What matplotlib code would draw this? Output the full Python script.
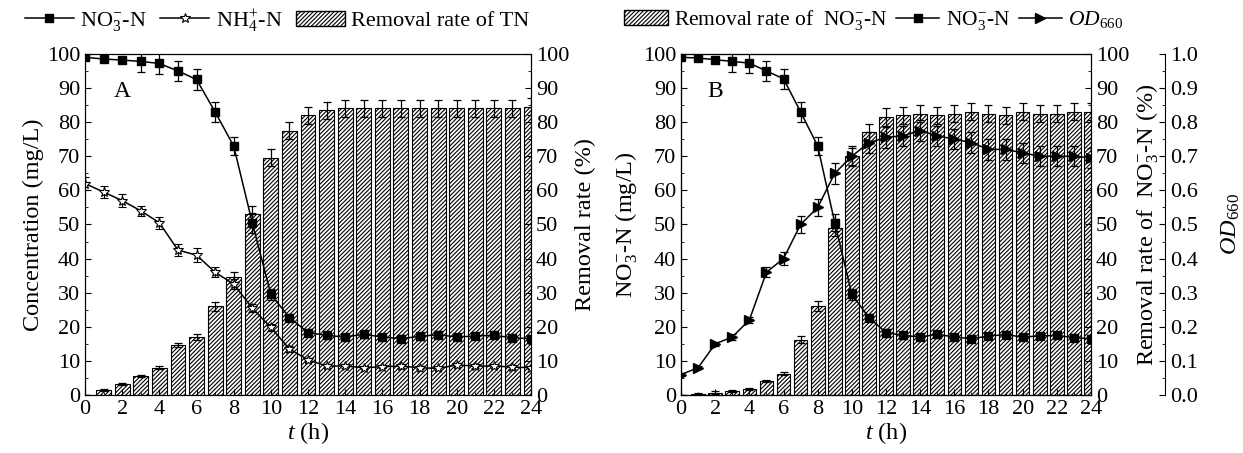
import matplotlib as mpl
mpl.use('Agg')
import matplotlib.pyplot as plt
from matplotlib.patches import Patch
from matplotlib.lines import Line2D
from matplotlib.ticker import MultipleLocator, FormatStrFormatter

plt.rcParams['font.family'] = ['Liberation Serif', 'DejaVu Serif']
plt.rcParams['mathtext.fontset'] = 'custom'
plt.rcParams['mathtext.rm'] = 'Liberation Serif'
plt.rcParams['mathtext.it'] = 'Liberation Serif:italic'
plt.rcParams['font.size'] = 16
plt.rcParams['hatch.linewidth'] = 0.8
plt.rcParams['hatch.color'] = '#222222'
plt.rcParams['xtick.direction'] = 'in'
plt.rcParams['ytick.direction'] = 'in'

# time axis (h)
t = list(range(25))

# panel A
no3_a = [99, 98.5, 98.2, 97.8, 97.2, 95, 92.5, 83, 73, 50.5, 29.5, 22.7, 18.3, 17.5, 17,
         17.8, 17, 16.5, 17.2, 17.7, 17, 17.3, 17.5, 16.8, 16.5]
no3_a_err = [0.8, 0.6, 0.6, 3, 3, 3, 3, 3, 2.5, 3, 1.5, 1, 1, 1, 1, 1, 1, 1, 1, 1, 1, 1, 1, 1, 1]
nh4_a = [62, 59.5, 57, 54, 50.5, 42.5, 41, 36, 32.5, 25.5, 19.8, 13.5, 10.3, 8.5, 8.5,
         8, 8.3, 8.5, 8, 7.8, 8.8, 8.5, 8.5, 8.2, 8]
nh4_a_err = [2, 1.8, 1.8, 1.5, 1.8, 1.8, 2, 1.5, 1.5, 1.2, 1, 0.8, 0.6, 0.5, 0.5, 0.5, 0.5,
             0.5, 0.5, 0.5, 0.5, 0.5, 0.5, 0.5, 0.5]
tn_rate = [0, 1.5, 3.3, 5.5, 8, 14.7, 17, 26, 34.5, 53, 69.5, 77.5, 82, 83.5, 84, 84, 84,
           84, 84, 84, 84, 84, 84, 84, 84.5]
tn_rate_err = [0, 0.2, 0.3, 0.3, 0.4, 0.5, 0.8, 1.3, 1.5, 2.5, 2.5, 2.5, 2.5, 2.5, 2.5, 2.5,
               2.5, 2.5, 2.5, 2.5, 2.5, 2.5, 2.5, 2.5, 2.5]

# panel B
no3_b = [99, 98.8, 98.3, 97.8, 97.3, 95, 92.7, 83, 73, 50.5, 29.5, 22.7, 18.3, 17.5, 17,
         17.8, 17, 16.5, 17.3, 17.7, 17, 17.3, 17.5, 16.8, 16.5]
no3_b_err = [0.8, 0.6, 0.6, 3, 3, 3, 3, 3, 2.5, 2.5, 1.5, 1, 1, 1, 1, 1, 1, 1, 1, 1, 1, 1, 1, 1, 1]
od660 = [0.06, 0.08, 0.15, 0.17, 0.22, 0.36, 0.40, 0.50, 0.55, 0.65, 0.70, 0.74, 0.755,
         0.76, 0.775, 0.76, 0.75, 0.74, 0.72, 0.72, 0.71, 0.70, 0.70, 0.70, 0.695]
od660_err = [0.005, 0.005, 0.005, 0.01, 0.01, 0.015, 0.02, 0.025, 0.025, 0.03, 0.03, 0.03,
             0.03, 0.03, 0.03, 0.03, 0.03, 0.03, 0.03, 0.03, 0.03, 0.03, 0.03, 0.03, 0.03]
no3_rate = [0, 0.3, 0.7, 1.2, 1.8, 4.2, 6.3, 16.2, 26, 49, 70, 77, 81.5, 82, 82.5, 82,
            82.5, 83, 82.5, 82, 83, 82.5, 82.5, 83, 83]
no3_rate_err = [0, 0.3, 0.5, 0.3, 0.3, 0.3, 0.4, 1, 1.5, 2.5, 2.5, 2.5, 2.5, 2.5, 2.5, 2.5,
                2.5, 2.5, 2.5, 2.5, 2.5, 2.5, 2.5, 2.5, 2.5]

NO3 = r'NO$_3^{-}$-N'
NH4 = r'NH$_4^{+}$-N'
HATCH = '////////'
LABEL_SIZE = 17.5

fig = plt.figure(figsize=(12.43, 4.53), dpi=100)
ax_a = fig.add_axes([0.0684, 0.128, 0.3588, 0.753])
ax_b = fig.add_axes([0.5479, 0.128, 0.3298, 0.753])

err_kw = dict(ecolor='black', elinewidth=0.9, capsize=3, capthick=0.9)


def style_axis(ax, major, minor):
    ax.yaxis.set_major_locator(MultipleLocator(major))
    ax.yaxis.set_minor_locator(MultipleLocator(minor))
    ax.tick_params(which='major', length=4)
    ax.tick_params(which='minor', length=2)


def draw_panel(ax, bars, bars_err, letter):
    bar_ax = ax.twinx()
    bar_ax.bar(t, bars, width=0.8, color='white', edgecolor='black', linewidth=0.8,
               hatch=HATCH, yerr=bars_err, error_kw=err_kw)
    bar_ax.set_ylim(0, 100)
    style_axis(bar_ax, 10, 5)
    ax.set_zorder(bar_ax.get_zorder() + 1)
    ax.patch.set_visible(False)
    ax.set_xlim(0, 24)
    ax.set_ylim(0, 100)
    ax.xaxis.set_major_locator(MultipleLocator(2))
    ax.xaxis.set_minor_locator(MultipleLocator(1))
    style_axis(ax, 10, 5)
    ax.tick_params(axis='x', which='both', top=False)
    ax.set_xlabel(r'$t$ (h)', labelpad=1, fontsize=LABEL_SIZE)
    ax.text(2.0, 89, letter, fontsize=17, ha='center', va='center')
    return bar_ax


# ---- panel A
bar_a = draw_panel(ax_a, tn_rate, tn_rate_err, 'A')
ax_a.errorbar(t, no3_a, yerr=no3_a_err, color='black', marker='s', ms=6, lw=1.1, **err_kw)
ax_a.errorbar(t, nh4_a, yerr=nh4_a_err, color='black', marker='*', ms=7, mfc='white',
              mew=0.8, lw=1.1, **err_kw)
ax_a.set_ylabel('Concentration (mg/L)', labelpad=2, fontsize=LABEL_SIZE)
bar_a.set_ylabel('Removal rate (%)', labelpad=4, fontsize=LABEL_SIZE)

leg_a = [Line2D([], [], color='black', marker='s', ms=6, lw=1.1),
         Line2D([], [], color='black', marker='*', ms=7, mfc='white', mew=0.8, lw=1.1),
         Patch(facecolor='white', edgecolor='black', hatch=HATCH)]
fig.legend(leg_a, [NO3, NH4, 'Removal rate of TN'], loc='center',
           bbox_to_anchor=(0.223, 0.955), ncol=3, frameon=False, handlelength=2.2,
           columnspacing=0.6, handletextpad=0.3, fontsize=16)

# ---- panel B
bar_b = draw_panel(ax_b, no3_rate, no3_rate_err, 'B')
ax_b.errorbar(t, no3_b, yerr=no3_b_err, color='black', marker='s', ms=6, lw=1.1, **err_kw)
ax_b.set_ylabel(NO3 + ' (mg/L)', labelpad=2, fontsize=LABEL_SIZE)
bar_b.set_ylabel('Removal rate of  ' + NO3 + ' (%)', labelpad=4, fontsize=LABEL_SIZE)

od_ax = ax_b.twinx()
od_ax.spines['right'].set_position(('axes', 1.18))
od_ax.set_zorder(ax_b.get_zorder() + 1)
od_ax.patch.set_visible(False)
od_ax.errorbar(t, od660, yerr=od660_err, color='black', marker='>', ms=7, lw=1.1, **err_kw)
od_ax.set_ylim(0, 1.0)
style_axis(od_ax, 0.1, 0.05)
od_ax.yaxis.set_major_formatter(FormatStrFormatter('%.1f'))
od_ax.set_ylabel(r'$OD_{660}$', labelpad=16, fontsize=LABEL_SIZE)

leg_b = [Patch(facecolor='white', edgecolor='black', hatch=HATCH),
         Line2D([], [], color='black', marker='s', ms=6, lw=1.1),
         Line2D([], [], color='black', marker='>', ms=7, lw=1.1)]
fig.legend(leg_b, ['Removal rate of  ' + NO3, NO3, r'$OD_{660}$'], loc='center',
           bbox_to_anchor=(0.703, 0.955), ncol=3, frameon=False, handlelength=2.0,
           columnspacing=0.4, handletextpad=0.3, fontsize=15.5)

fig.savefig('out.png', dpi=100)
